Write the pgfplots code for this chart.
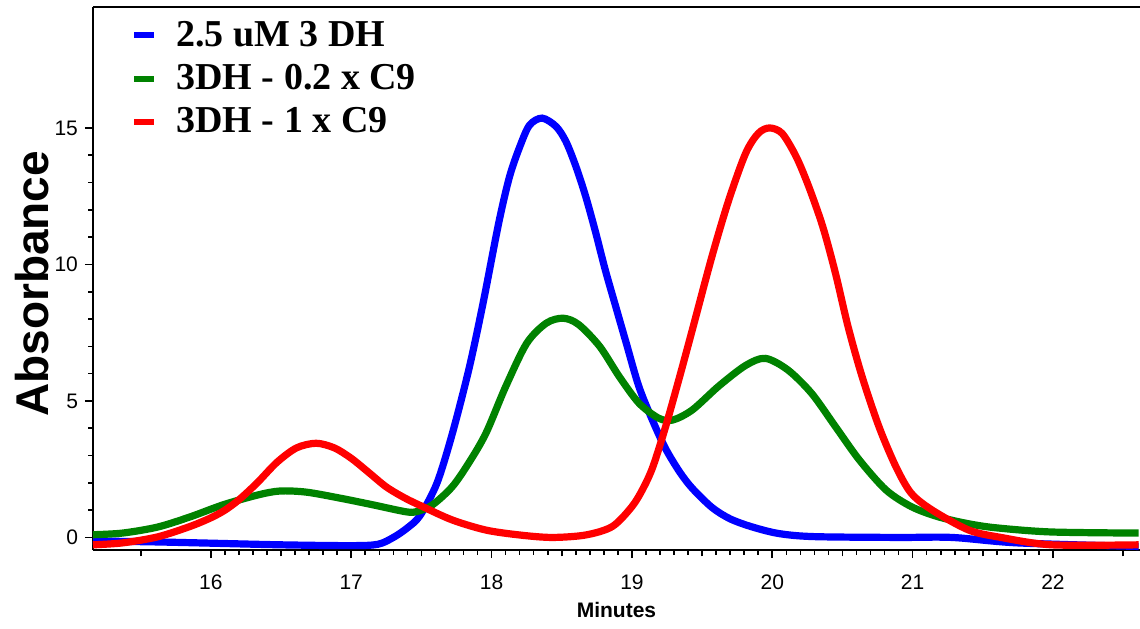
\documentclass[border=0pt]{standalone}
\usepackage{pgfplots}
\pgfplotsset{compat=1.18}
\usepackage{fontspec}
\setmainfont{Liberation Serif}
\setsansfont{Liberation Sans}

\definecolor{cblue}{RGB}{0,0,255}
\definecolor{cgreen}{RGB}{0,130,0}
\definecolor{cred}{RGB}{255,0,0}

\begin{document}
\begin{tikzpicture}
\path[use as bounding box] (-46.5pt,-39pt) rectangle (523.5pt,275pt);
\begin{axis}[
    at={(0pt,0pt)}, anchor=south west,
    scale only axis,
    width=523.5pt, height=271.5pt,
    xmin=15.16, xmax=22.62,
    ymin=-0.46, ymax=19.43,
    axis x line=box,
    axis y line*=left,
    xtick pos=bottom, ytick pos=left,
    tick align=outside,
    xtick={16,17,18,19,20,21,22},
    ytick={0,5,10,15},
    minor x tick num=9,
    minor y tick num=4,
    extra x ticks={15.5,16.5,17.5,18.5,19.5,20.5,21.5,22.5},
    extra x tick labels={},
    extra x tick style={major tick length=3.2pt, tick style={line width=0.8pt}},
    major tick length=4pt,
    minor tick length=2.3pt,
    tick style={black, line width=0.8pt},
    axis line style={black, line width=1pt},
    tick label style={font=\sffamily\fontsize{10.5}{12}\selectfont},
    /pgf/number format/assume math mode=true,
    xticklabel style={yshift=-5pt},
    xlabel={\sffamily\bfseries\fontsize{10.5}{12}\selectfont Minutes},
    ylabel={\sffamily\bfseries\fontsize{23}{26}\selectfont Absorbance},
    x label style={at={(axis description cs:0.5,0)}, anchor=center, yshift=-30pt},
    y label style={at={(axis description cs:-0.0583,0.49)}, anchor=center},
    legend style={draw=none, fill=none, at={(rel axis cs:0,1)}, anchor=north west,
        xshift=16pt, yshift=-3pt,
        font=\bfseries\fontsize{19}{21}\selectfont, row sep=3.5pt,
        nodes={inner sep=2pt}},
    legend cell align=left,
    legend image code/.code={\draw[#1, line width=3pt] (0pt,0pt) -- (10pt,0pt);
        \path[draw=none, fill=none] (0pt,0pt) -- (19pt,0pt);},
    every axis plot/.append style={line width=3.6pt, smooth, tension=0.5},
    clip=true,
]
\addplot[color=cblue] coordinates {
(15.16,-0.13)(15.57,-0.16)(15.92,-0.2)(16.5,-0.27)(17.0,-0.3)(17.19,-0.25)(17.3,0.0)
(17.4,0.35)(17.49,0.8)(17.61,1.98)(17.72,3.8)(17.84,6.2)(17.94,8.6)(18.05,11.5)
(18.127,13.2)(18.2,14.3)(18.27,15.1)(18.36,15.36)(18.46,15.05)(18.53,14.5)
(18.6,13.6)(18.67,12.5)(18.74,11.2)(18.81,9.8)(18.885,8.45)(18.96,7.11)(19.05,5.52)
(19.15,4.25)(19.24,3.25)(19.34,2.4)(19.43,1.8)(19.57,1.1)(19.7,0.68)(19.86,0.38)
(20.05,0.14)(20.3,0.03)(20.9,0)(21.28,0)(21.75,-0.2)(22.61,-0.33)
};
\addplot[color=cgreen] coordinates {
(15.16,0.1)(15.37,0.16)(15.62,0.38)(15.85,0.75)(16.09,1.2)(16.33,1.55)(16.49,1.7)
(16.68,1.66)(16.92,1.44)(17.15,1.2)(17.39,0.94)(17.47,0.95)(17.58,1.2)(17.72,1.86)
(17.84,2.75)(17.96,3.82)(18.1,5.52)(18.25,7.11)(18.39,7.85)(18.51,8.03)(18.62,7.8)
(18.77,7.0)(18.91,5.89)(19.05,4.92)(19.19,4.37)(19.29,4.3)(19.43,4.67)(19.62,5.55)
(19.81,6.3)(19.95,6.56)(20.11,6.14)(20.28,5.28)(20.45,4.06)(20.62,2.84)(20.81,1.74)
(20.99,1.13)(21.18,0.76)(21.4,0.5)(21.6,0.35)(21.99,0.2)(22.61,0.16)
};
\addplot[color=cred] coordinates {
(15.16,-0.27)(15.37,-0.2)(15.62,0.02)(15.85,0.4)(16.0,0.72)(16.1,1.0)(16.2,1.38)
(16.33,2.0)(16.47,2.75)(16.61,3.28)(16.75,3.45)(16.88,3.28)(17.0,2.9)(17.12,2.4)
(17.25,1.85)(17.38,1.45)(17.5,1.15)(17.72,0.64)(17.96,0.27)(18.2,0.09)(18.43,0)
(18.67,0.09)(18.86,0.4)(19.0,1.13)(19.08,1.8)(19.15,2.6)(19.24,4.06)(19.34,5.89)
(19.43,7.6)(19.57,10.29)(19.69,12.36)(19.81,14.07)(19.9,14.8)(19.98,15.0)(20.07,14.8)
(20.17,13.95)(20.26,12.85)(20.36,11.38)(20.45,9.68)(20.54,7.72)(20.64,5.89)(20.76,4.06)
(20.88,2.6)(20.99,1.62)(21.14,1.0)(21.4,0.27)(21.63,0)(21.99,-0.27)(22.61,-0.27)
};
\legend{2.5 uM 3 DH, 3DH - 0.2 x C9, 3DH - 1 x C9}
\end{axis}
\end{tikzpicture}
\end{document}
